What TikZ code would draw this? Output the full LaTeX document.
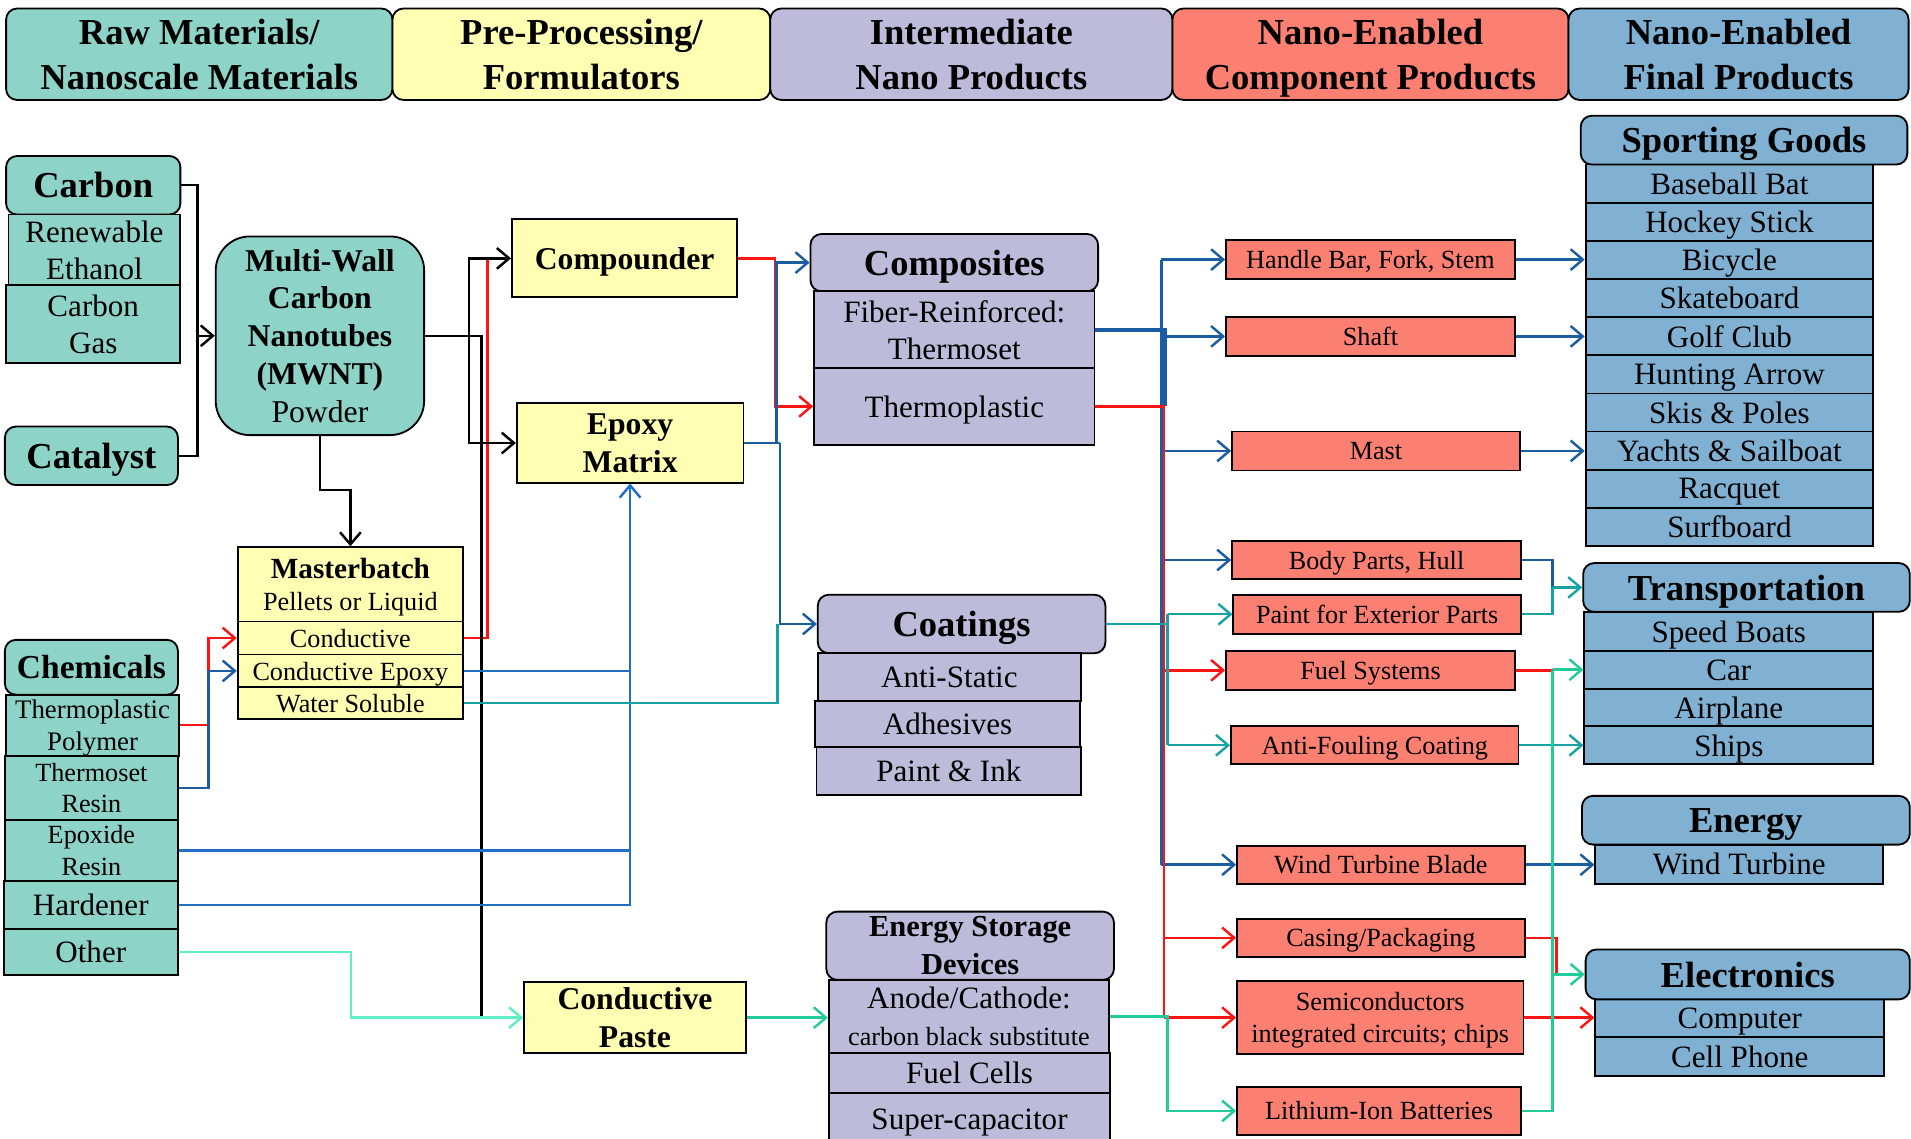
\documentclass[tikz,border=0pt]{standalone}
\usepackage{fontspec}
\setmainfont{Liberation Serif}
\usetikzlibrary{arrows.meta}
\definecolor{cTeal}{HTML}{8DD3C7}
\definecolor{cYel}{HTML}{FFFFB3}
\definecolor{cLav}{HTML}{BEBADA}
\definecolor{cSal}{HTML}{FB8072}
\definecolor{cBlu}{HTML}{80B1D3}
\definecolor{lRed}{HTML}{FF1414}
\definecolor{lBlue}{HTML}{1B5DA3}
\definecolor{lBlueB}{HTML}{1F6FC6}
\definecolor{lTeal}{HTML}{17A2A6}
\definecolor{lGreen}{HTML}{22CC9A}
\definecolor{lMint}{HTML}{5EEFC6}
\begin{document}
\begin{tikzpicture}[x=1pt,y=-1pt,
  box/.style={draw=black, line width=1.5pt, inner sep=0pt, align=center, text=black, text depth=0pt},
  rbox/.style={box, rounded corners=9pt},
  wh/.style 2 args={minimum width=#1pt, minimum height=#2pt},
  fH/.style={font=\fontsize{30}{37}\selectfont\bfseries},
  fT/.style={font=\fontsize{26}{31}\selectfont\bfseries},
  fR/.style={font=\fontsize{25.5}{30.5}\selectfont},
  fS/.style={font=\fontsize{21.5}{26}\selectfont},
  wire/.style={line width=2pt},
  >={Straight Barb[length=10pt,width=17pt]}
]
\path[use as bounding box, clip] (0,0) rectangle (1568,934);
\fill[white] (0,0) rectangle (1568,934);

% column headers
\node[rbox, fill=cTeal, wh={317}{75}, fH] (hRaw) at (163.5,44.5) {Raw Materials/\\Nanoscale Materials};
\node[rbox, fill=cYel, wh={310}{75}, fH] (hPre) at (477,44.5) {Pre-Processing/\\Formulators};
\node[rbox, fill=cLav, wh={330}{75}, fH] (hInt) at (797,44.5) {Intermediate\\Nano Products};
\node[rbox, fill=cSal, wh={325}{75}, fH] (hComp) at (1124.5,44.5) {Nano-Enabled\\Component Products};
\node[rbox, fill=cBlu, wh={279}{75}, fH] (hFin) at (1426.5,44.5) {Nano-Enabled\\Final Products};

% raw materials
\node[rbox, fill=cTeal, wh={143}{48}, fH] (carbon) at (76.5,152) {Carbon};
\node[box, fill=cTeal, wh={141}{58}, fR] (ethanol) at (77.5,205) {Renewable\\Ethanol};
\node[box, fill=cTeal, wh={143}{64}, fR] (cgas) at (76.5,266) {Carbon\\Gas};
\node[rbox, fill=cTeal, wh={142}{48}, fH] (catalyst) at (75,374) {Catalyst};
\node[box, fill=cTeal, rounded corners=28pt, wh={171}{163}, fT] (mwnt) at (262.5,275.5)
  {Multi-Wall\\Carbon\\Nanotubes\\(MWNT)\\{\mdseries Powder}};
\node[rbox, fill=cTeal, wh={142}{45}, font=\fontsize{27.5}{33}\selectfont\bfseries] (chem) at (75,547.5) {Chemicals};
\node[box, fill=cTeal, wh={142}{50}, font=\fontsize{22}{26}\selectfont] (tplast) at (76,595) {Thermoplastic\\Polymer};
\node[box, fill=cTeal, wh={142}{53}, fS] (tset) at (75,646.5) {Thermoset\\Resin};
\node[box, fill=cTeal, wh={142}{50}, fS] (epoxide) at (75,698) {Epoxide\\Resin};
\node[box, fill=cTeal, wh={143}{39}, fR] (hardener) at (74.5,742.5) {Hardener};
\node[box, fill=cTeal, wh={143}{38}, fR] (other) at (74.5,781) {Other};

% pre-processing / formulators
\node[box, fill=cYel, wh={185}{61}, fS] (master) at (287.5,479.5)
  {{\fontsize{24}{28}\selectfont\bfseries Masterbatch}\\Pellets or Liquid};
\node[box, fill=cYel, wh={185}{27}, fS] (cond) at (287.5,523.5) {Conductive};
\node[box, fill=cYel, wh={185}{27}, fS] (condep) at (287.5,550.5) {Conductive Epoxy};
\node[box, fill=cYel, wh={185}{26}, fS] (water) at (287.5,577) {Water Soluble};
\node[box, fill=cYel, wh={185}{64}, fT] (compounder) at (512.5,212) {Compounder};
\node[box, fill=cYel, wh={186}{65}, fT] (epoxym) at (517,363.5) {Epoxy\\Matrix};
\node[box, fill=cYel, wh={182}{58}, fT] (paste) at (521,835) {Conductive\\Paste};

% intermediate nano products
\node[rbox, fill=cLav, wh={236}{47}, fH] (composites) at (783,215.5) {Composites};
\node[box, fill=cLav, wh={230}{63}, fR] (fiber) at (783,270.5) {Fiber-Reinforced:\\Thermoset};
\node[box, fill=cLav, wh={230}{63}, fR] (tplastic) at (783,333.5) {Thermoplastic};
\node[rbox, fill=cLav, wh={236}{48}, fH] (coatings) at (789,512) {Coatings};
\node[box, fill=cLav, wh={216}{39}, fR] (antistatic) at (779,555.5) {Anti-Static};
\node[box, fill=cLav, wh={217}{38}, fR] (adhesives) at (777.5,594) {Adhesives};
\node[box, fill=cLav, wh={217}{39}, fR] (paintink) at (778.5,632.5) {Paint \& Ink};
\node[rbox, fill=cLav, wh={236}{56}, font=\fontsize{25}{31}\selectfont\bfseries] (esd) at (796,776) {Energy Storage\\Devices};
\node[box, fill=cLav, wh={230}{60}, fR] (anode) at (795,834)
  {Anode/Cathode:\\{\fontsize{21.5}{26}\selectfont carbon black substitute}};
\node[box, fill=cLav, wh={231}{33}, fR] (fuelcells) at (795.5,880.5) {Fuel Cells};
\node[box, fill=cLav, wh={231}{43}, fR] (supercap) at (795.5,918.5) {Super-capacitor};

% nano-enabled component products
\node[box, fill=cSal, wh={237}{32}, fS] (handle) at (1124.5,213) {Handle Bar, Fork, Stem};
\node[box, fill=cSal, wh={237}{32}, fS] (shaft) at (1124.5,276) {Shaft};
\node[box, fill=cSal, wh={236}{32}, fS] (mast) at (1129,370) {Mast};
\node[box, fill=cSal, wh={237}{31}, fS] (body) at (1129.5,459.5) {Body Parts, Hull};
\node[box, fill=cSal, wh={236}{32}, fS] (pext) at (1130,504) {Paint for Exterior Parts};
\node[box, fill=cSal, wh={237}{32}, fS] (fuel) at (1124.5,550) {Fuel Systems};
\node[box, fill=cSal, wh={236}{31}, fS] (antif) at (1128,611.5) {Anti-Fouling Coating};
\node[box, fill=cSal, wh={236}{31}, fS] (wtb) at (1133,709.5) {Wind Turbine Blade};
\node[box, fill=cSal, wh={236}{31}, fS] (casing) at (1133,769.5) {Casing/Packaging};
\node[box, fill=cSal, wh={235}{60}, fS] (semi) at (1132.5,835) {Semiconductors\\integrated circuits; chips};
\node[box, fill=cSal, wh={233}{39}, fS] (liion) at (1131.5,911.5) {Lithium-Ion Batteries};

% nano-enabled final products
\foreach \t/\n [count=\i] in {Baseball Bat/bat, Hockey Stick/hockey, Bicycle/bicycle,
  Skateboard/skate, Golf Club/golf, Hunting Arrow/hunt, Skis \& Poles/skis,
  Yachts \& Sailboat/yachts, Racquet/racquet, Surfboard/surf}
  \node[box, fill=cBlu, wh={236}{31.3}, fR] (\n) at (1419,{119.35+31.3*\i}) {\t};
\node[rbox, fill=cBlu, wh={268}{40}, fH] (sport) at (1431,115) {Sporting Goods};
\node[box, fill=cBlu, wh={237}{32}, fR] (speed) at (1418.5,518) {Speed Boats};
\node[box, fill=cBlu, wh={237}{31}, fR] (car) at (1418.5,549.5) {Car};
\node[box, fill=cBlu, wh={237}{31}, fR] (airplane) at (1418.5,580.5) {Airplane};
\node[box, fill=cBlu, wh={237}{31}, fR] (ships) at (1418.5,611.5) {Ships};
\node[rbox, fill=cBlu, wh={268}{40}, fH] (trans) at (1433,482) {Transportation};
\node[box, fill=cBlu, wh={236}{32}, fR] (wturb) at (1427,709) {Wind Turbine};
\node[rbox, fill=cBlu, wh={269}{40}, fH] (energy) at (1432.5,673) {Energy};
\node[box, fill=cBlu, wh={237}{31}, fR] (computer) at (1427.5,835.5) {Computer};
\node[box, fill=cBlu, wh={237}{32}, fR] (cell) at (1427.5,867) {Cell Phone};
\node[rbox, fill=cBlu, wh={266}{41}, fH] (elec) at (1434,799.5) {Electronics};

% junction points
\coordinate (jA) at (162,275.5);
\coordinate (jB) at (385,275.5);
\coordinate (jB2) at (395,275.5);
\coordinate (jC) at (287.5,402);
\coordinate (rA) at (171,595);
\coordinate (rB) at (400,212);
\coordinate (rC) at (636,212);
\coordinate (rbus) at (955,333.5);
\coordinate (rD) at (1277,799.5);
\coordinate (bA) at (171,646.5);
\coordinate (bB) at (637,363.5);
\coordinate (bC) at (640,363.5);
\coordinate (bD) at (956,270.5);
\coordinate (bbus) at (953,213);
\coordinate (jT) at (1274,482);
\coordinate (tA) at (638,512);
\coordinate (tbus) at (958,512);
\coordinate (gA) at (288,781);
\coordinate (gB) at (958,834);
\coordinate (gbus) at (1274,911.5);

% red flows
\draw[wire,lRed] (cond.east) -| (rB);
\draw[wire,lRed,->] (tplast.east) -- (rA) |- (cond.west);
\draw[wire,lRed,->] (compounder.east) -- (rC) |- (tplastic.west);

% black flows
\draw[wire] (carbon.east) -| (jA) |- (catalyst.east);
\draw[wire,->] (jA) -- (jA -| mwnt.west);
\draw[wire] (mwnt.east) -- (jB2) -- (jB2 |- paste.west);
\draw[wire,->] (jB) |- (compounder.west);
\draw[wire,->] (jB) |- (epoxym.west);
\draw[wire,->] (mwnt.south) |- (jC) -- (master.north);

% blue flows into masterbatch and epoxy matrix
\draw[wire,lBlue,->] (tset.east) -- (bA) |- (condep.west);
\draw[wire,lBlueB] (condep.east) -- (condep.east -| epoxym.south);
\draw[wire,lBlueB] (epoxide.east) -- (epoxide.east -| epoxym.south);
\draw[wire,lBlueB,->] (hardener.east) -| (epoxym.south);
\draw[wire,lTeal] (water.east) -| (tA);
\draw[wire,lBlue] (epoxym.east) -- (bC);
\draw[wire,lBlue,->] (bB) |- (composites.west);
\draw[wire,lBlue,->] (bC) |- (coatings.west);

% composites to components
\draw[wire,lBlue] (bbus) -- (bbus |- wtb.west);
\foreach \n in {handle,shaft,mast,body,wtb}
  \draw[wire,lBlue,->] (bbus |- \n.west) -- (\n.west);
\draw[line width=3.5pt,lBlue] (fiber.east) -- (bD) -- (bD |- tplastic.east);
\draw[wire,lRed] (tplastic.east) -- (rbus) -- (rbus |- semi.west);
\foreach \n in {fuel,casing,semi}
  \draw[wire,lRed,->] (rbus |- \n.west) -- (\n.west);

% coatings to components
\draw[wire,lTeal] (coatings.east) -- (tbus);
\draw[wire,lTeal] (tbus |- pext.west) -- (tbus |- antif.west);
\draw[wire,lTeal,->] (tbus |- pext.west) -- (pext.west);
\draw[wire,lTeal,->] (tbus |- antif.west) -- (antif.west);

% conductive paste and energy storage
\draw[wire,lMint,->] (other.east) -- (gA) |- (paste.west);
\draw[wire,lGreen,->] (paste.east) -- (paste.east -| anode.west);
\draw[wire,lGreen,->] (anode.east) -- (gB) |- (liion.west);

% components to final products
\draw[wire,lBlue,->] (handle.east) -- (handle.east -| bicycle.west);
\draw[wire,lBlue,->] (shaft.east) -- (shaft.east -| golf.west);
\draw[wire,lBlue,->] (mast.east) -- (mast.east -| yachts.west);
\draw[wire,lBlue] (body.east) -| (jT);
\draw[wire,lTeal] (pext.east) -| (jT);
\draw[wire,lTeal,->] (jT) -- (trans.west);
\draw[wire,lTeal,->] (antif.east) -- (antif.east -| ships.west);
\draw[wire,lBlue,->] (wtb.east) -- (wtb.east -| wturb.west);
\draw[wire,lRed] (fuel.east) -- (fuel.east -| gbus);
\draw[wire,lRed] (casing.east) -| (rD);
\draw[wire,lRed,->] (semi.east) -- (semi.east -| computer.west);
\draw[wire,lGreen] (liion.east) -- (gbus) -- (gbus |- car.west);
\draw[wire,lGreen,->] (gbus |- car.west) -- (car.west);
\draw[wire,lGreen,->] (gbus |- elec.west) -- (elec.west);
\end{tikzpicture}
\end{document}
